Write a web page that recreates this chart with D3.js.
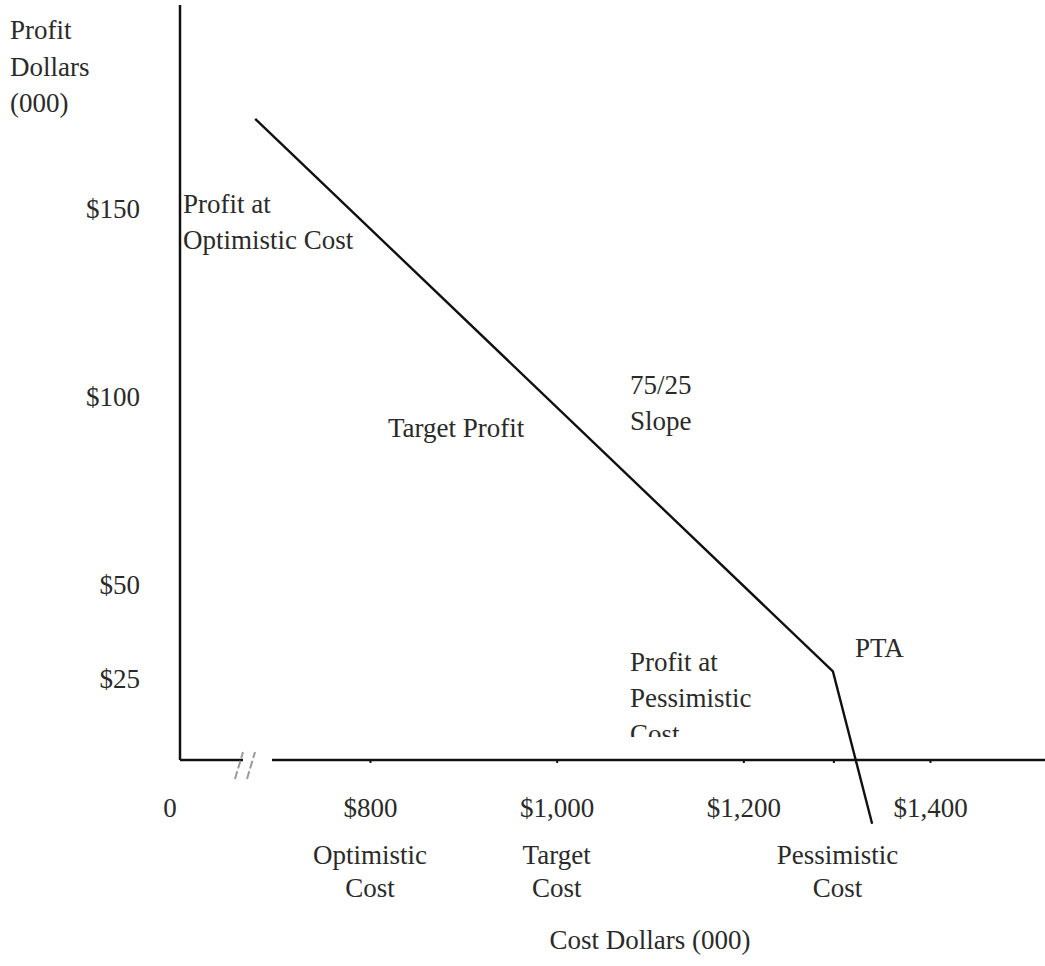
<!DOCTYPE html>
<meta charset="utf-8">
<script src="https://cdn.jsdelivr.net/npm/d3@7"></script>
<style>
body { margin: 0; background: #fff; }
svg text { font-family: "Liberation Serif", "Times New Roman", serif; font-size: 27px; fill: #2a2a2a; }
.axis .domain { display: none; }
</style>
<div id="vis"></div>
<script>
// data
var costTicks = [800, 1000, 1200, 1400];
var costTickLabels = ["$800", "$1,000", "$1,200", "$1,400"];
var costNames = [["Optimistic", "Cost"], ["Target", "Cost"], [], []];
var pessimisticCost = 1301;
var ptaCost = 1297;
var profitTicks = [25, 50, 100, 150];
var profitTickLabels = ["$25", "$50", "$100", "$150"];
var curveCost = [677, 1296, 1338];
var curveProfit = [174, 27, -13.5];

var W = 1045, H = 966;
var axisLeftX = 180, axisBottomY = 760;

var svg = d3.select("#vis").append("svg")
    .attr("width", W).attr("height", H);

var x = d3.scaleLinear().domain([800, 1400]).range([370, 930]);
var y = d3.scaleLinear().domain([0, 150]).range([773, 209]);

// axes lines (with the // break on the cost axis)
svg.append("line")
    .attr("x1", axisLeftX).attr("x2", axisLeftX)
    .attr("y1", 5).attr("y2", axisBottomY)
    .attr("stroke", "#111").attr("stroke-width", 2.5);
svg.append("line")
    .attr("x1", axisLeftX).attr("x2", 243)
    .attr("y1", axisBottomY).attr("y2", axisBottomY)
    .attr("stroke", "#111").attr("stroke-width", 2.5);
svg.append("line")
    .attr("x1", 272).attr("x2", W)
    .attr("y1", axisBottomY).attr("y2", axisBottomY)
    .attr("stroke", "#111").attr("stroke-width", 2.5);

// the break mark
[0, 12].forEach(function(off) {
  svg.append("line")
    .attr("x1", 235 + off).attr("y1", 779)
    .attr("x2", 243 + off).attr("y2", 752)
    .attr("stroke", "#999").attr("stroke-width", 2)
    .attr("stroke-dasharray", "8,3");
});

// x axis ticks + labels
var xAxis = svg.append("g")
    .attr("class", "axis")
    .attr("transform", "translate(0," + axisBottomY + ")")
    .call(d3.axisBottom(x).tickValues(costTicks).tickSize(3).tickPadding(54)
      .tickFormat(function(d, i) { return costTickLabels[i]; }));
xAxis.selectAll("line").attr("stroke", "#111").attr("stroke-width", 2);
xAxis.selectAll("text")
    .attr("font-family", null).attr("font-size", null).attr("fill", null)
    .attr("dy", null);

xAxis.append("line")
    .attr("x1", x(ptaCost)).attr("x2", x(ptaCost))
    .attr("y1", 0).attr("y2", 3)
    .attr("stroke", "#111").attr("stroke-width", 2);

svg.append("text")
    .attr("x", 170).attr("y", 817)
    .attr("text-anchor", "middle")
    .text("0");

// names under tick labels
costTicks.forEach(function(c, i) {
  costNames[i].forEach(function(t, j) {
    svg.append("text")
      .attr("x", x(c)).attr("y", 864 + j * 33)
      .attr("text-anchor", "middle")
      .text(t);
  });
});
["Pessimistic", "Cost"].forEach(function(t, j) {
  svg.append("text")
    .attr("x", x(pessimisticCost)).attr("y", 864 + j * 33)
    .attr("text-anchor", "middle")
    .text(t);
});

svg.append("text")
    .attr("x", 650).attr("y", 949)
    .attr("text-anchor", "middle")
    .text("Cost Dollars (000)");

// y axis labels
var yAxis = svg.append("g")
    .attr("class", "axis")
    .attr("transform", "translate(" + axisLeftX + ",0)")
    .call(d3.axisLeft(y).tickValues(profitTicks).tickSize(0).tickPadding(40)
      .tickFormat(function(d, i) { return profitTickLabels[i]; }));
yAxis.selectAll("text")
    .attr("font-family", null).attr("font-size", null).attr("fill", null);

["Profit", "Dollars", "(000)"].forEach(function(t, j) {
  svg.append("text")
    .attr("x", 10).attr("y", 39 + j * 36.5)
    .text(t);
});

// profit curve
var line = d3.line()
    .x(function(d, i) { return x(d); })
    .y(function(d, i) { return y(curveProfit[i]); });

svg.append("path")
    .datum(curveCost)
    .attr("d", line)
    .attr("fill", "none")
    .attr("stroke", "#111")
    .attr("stroke-width", 2.4);

// annotations
function note(lines, px, py, clip) {
  var g = svg.append("g");
  if (clip) g.attr("clip-path", "url(#" + clip + ")");
  lines.forEach(function(t, j) {
    g.append("text").attr("x", px).attr("y", py + j * 36).text(t);
  });
}

svg.append("clipPath").attr("id", "cut")
  .append("rect").attr("x", 0).attr("y", 0).attr("width", W).attr("height", 737);

note(["Profit at", "Optimistic Cost"], 183, 213);
note(["75/25", "Slope"], 630, 394);
note(["Target Profit"], 388, 437);
note(["PTA"], 855, 657);
note(["Profit at", "Pessimistic", "Cost"], 630, 671, "cut");
</script>
